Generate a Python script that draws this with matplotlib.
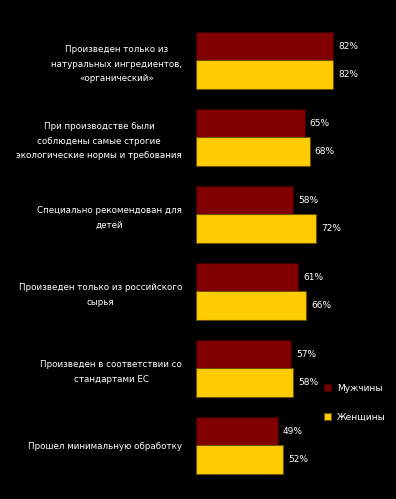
import numpy as np
import matplotlib
matplotlib.use('Agg')
import matplotlib.pyplot as plt

# survey data, % of respondents
categories = [
    'Произведен только из\nнатуральных ингредиентов,\n«органический»',
    'При производстве были\nсоблюдены самые строгие\nэкологические нормы и требования',
    'Специально рекомендован для\nдетей',
    'Произведен только из российского\nсырья',
    'Произведен в соответствии со\nстандартами ЕС',
    'Прошел минимальную обработку',
]
men = [82, 65, 58, 61, 57, 49]
women = [82, 68, 72, 66, 58, 52]
series_names = ['Мужчины', 'Женщины']

fig = plt.figure(figsize=(3.96, 4.99), dpi=100, facecolor='black')
# axes box in pixels: x 196..363, y 22..484 (from top)
ax = fig.add_axes([196/396, 1 - 484/499, 167/396, 462/499])
ax.set_facecolor('black')

y = np.arange(len(categories))
h = 0.364
b1 = ax.barh(y - h/2, men, height=h, color='#800000', edgecolor='#3a0000',
             linewidth=0.8, label=series_names[0])
b2 = ax.barh(y + h/2, women, height=h, color='#FFCC00', edgecolor='#6b5200',
             linewidth=0.8, label=series_names[1])

for bars, vals in [(b1, men), (b2, women)]:
    for rect, v in zip(bars, vals):
        ax.text(v + 3, rect.get_y() + rect.get_height()/2, str(v) + '%',
                color='white', fontsize=6.5, va='center', ha='left')

ax.set_xlim(0, 100)
ax.set_ylim(len(categories) - 0.5, -0.5)
ax.set_xticks([])
ax.set_yticks(y)
ax.set_yticklabels(categories, color='white', fontsize=6.3, linespacing=1.75,
                   ha='right', multialignment='center')
ax.tick_params(axis='y', length=0, pad=10)
for s in ax.spines.values():
    s.set_visible(False)

leg = ax.legend(loc='center left', bbox_to_anchor=(316/396, 1 - 403/499),
                bbox_transform=fig.transFigure, frameon=False, fontsize=6.5,
                handlelength=0.8, handleheight=0.8, handletextpad=0.6,
                labelspacing=2.2)
for t in leg.get_texts():
    t.set_color('white')

fig.savefig('out.png', dpi=100, facecolor='black')
